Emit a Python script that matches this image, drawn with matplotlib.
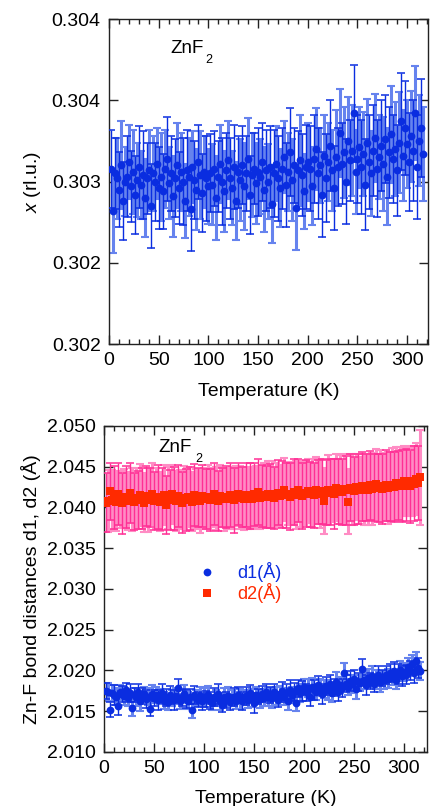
import matplotlib
matplotlib.use("Agg")
import matplotlib.pyplot as plt
import numpy as np
from matplotlib.lines import Line2D

plt.rcParams['font.family'] = ['Liberation Sans', 'DejaVu Sans']
plt.rcParams['mathtext.fontset'] = 'custom'
plt.rcParams['mathtext.rm'] = 'Liberation Sans'
plt.rcParams['mathtext.it'] = 'Liberation Sans:italic'

# ---------------- data ----------------
temperature = list(range(2, 318, 2))

x_rlu = [
    0.30308, 0.30282, 0.30305, 0.30302, 0.30295, 0.30310, 0.30288, 0.30300, 0.30303, 0.30312,
    0.30297, 0.30306, 0.30292, 0.30301, 0.30309, 0.30298, 0.30304, 0.30290, 0.30302, 0.30307,
    0.30285, 0.30305, 0.30300, 0.30311, 0.30296, 0.30303, 0.30294, 0.30308, 0.30314, 0.30299,
    0.30305, 0.30291, 0.30302, 0.30310, 0.30296, 0.30306, 0.30300, 0.30288, 0.30307, 0.30303,
    0.30283, 0.30309, 0.30301, 0.30295, 0.30312, 0.30304, 0.30293, 0.30306, 0.30302, 0.30297,
    0.30305, 0.30298, 0.30308, 0.30290, 0.30303, 0.30311, 0.30300, 0.30294, 0.30307, 0.30313,
    0.30302, 0.30296, 0.30309, 0.30288, 0.30306, 0.30301, 0.30310, 0.30297, 0.30305, 0.30314,
    0.30292, 0.30304, 0.30308, 0.30299, 0.30306, 0.30303, 0.30312, 0.30295, 0.30307, 0.30300,
    0.30309, 0.30286, 0.30305, 0.30311, 0.30302, 0.30296, 0.30308, 0.30315, 0.30298, 0.30306,
    0.30318, 0.30301, 0.30310, 0.30284, 0.30307, 0.30313, 0.30304, 0.30294, 0.30309, 0.30312,
    0.30308, 0.30297, 0.30314, 0.30320, 0.30305, 0.30310, 0.30292, 0.30316, 0.30302, 0.30312,
    0.30322, 0.30307, 0.30296, 0.30315, 0.30309, 0.30330, 0.30311, 0.30318, 0.30300, 0.30325,
    0.30313, 0.30319, 0.30342, 0.30306, 0.30314, 0.30321, 0.30309, 0.30317, 0.30298, 0.30324,
    0.30312, 0.30305, 0.30319, 0.30327, 0.30308, 0.30315, 0.30322, 0.30311, 0.30326, 0.30303,
    0.30318, 0.30329, 0.30314, 0.30320, 0.30307, 0.30324, 0.30337, 0.30316, 0.30333, 0.30323,
    0.30312, 0.30328, 0.30319, 0.30342, 0.30309, 0.30325, 0.30333, 0.30317,
]
x_err_1e5 = [
    24, 26, 22, 25, 23, 27, 24, 21, 25, 23,
    22, 26, 24, 23, 25, 21, 27, 24, 22, 25,
    26, 23, 24, 22, 25, 27, 23, 24, 26, 22,
    23, 25, 24, 26, 22, 24, 27, 23, 25, 24,
    26, 22, 24, 25, 23, 27, 24, 22, 26, 23,
    24, 25, 23, 26, 22, 24, 27, 25, 23, 24,
    25, 23, 26, 24, 22, 25, 24, 27, 23, 25,
    24, 26, 22, 25, 27, 23, 24, 26, 25, 23,
    25, 24, 27, 23, 26, 24, 25, 22, 26, 24,
    27, 25, 23, 26, 24, 28, 25, 23, 26, 24,
    26, 24, 27, 25, 28, 23, 26, 25, 27, 24,
    28, 25, 26, 29, 24, 27, 25, 28, 26, 27,
    25, 28, 30, 26, 27, 25, 29, 26, 28, 27,
    29, 26, 28, 27, 30, 26, 28, 29, 27, 30,
    28, 30, 27, 29, 28, 31, 30, 28, 29, 27,
    30, 28, 31, 29, 32, 28, 30, 29,
]

d2_A = [
    2.0406, 2.0408, 2.0420, 2.0409, 2.0412, 2.0407, 2.0416, 2.0410, 2.0405, 2.0411,
    2.0413, 2.0408, 2.0418, 2.0410, 2.0407, 2.0412, 2.0409, 2.0415, 2.0411, 2.0406,
    2.0414, 2.0409, 2.0412, 2.0417, 2.0408, 2.0411, 2.0413, 2.0407, 2.0410, 2.0415,
    2.0403, 2.0412, 2.0409, 2.0416, 2.0411, 2.0408, 2.0414, 2.0410, 2.0406, 2.0412,
    2.0409, 2.0413, 2.0411, 2.0407, 2.0415, 2.0410, 2.0412, 2.0408, 2.0414, 2.0411,
    2.0410, 2.0413, 2.0409, 2.0412, 2.0416, 2.0411, 2.0408, 2.0414, 2.0412, 2.0410,
    2.0413, 2.0411, 2.0415, 2.0412, 2.0409, 2.0414, 2.0417, 2.0412, 2.0413, 2.0410,
    2.0415, 2.0412, 2.0414, 2.0411, 2.0416, 2.0413, 2.0419, 2.0412, 2.0414, 2.0415,
    2.0413, 2.0417, 2.0414, 2.0416, 2.0412, 2.0415, 2.0418, 2.0414, 2.0416, 2.0422,
    2.0415, 2.0417, 2.0413, 2.0416, 2.0419, 2.0415, 2.0421, 2.0416, 2.0414, 2.0418,
    2.0417, 2.0420, 2.0416, 2.0418, 2.0415, 2.0421, 2.0419, 2.0417, 2.0420, 2.0408,
    2.0418, 2.0422, 2.0419, 2.0421, 2.0417, 2.0424, 2.0420, 2.0422, 2.0419, 2.0423,
    2.0421, 2.0407, 2.0424, 2.0422, 2.0420, 2.0425, 2.0423, 2.0421, 2.0426, 2.0422,
    2.0424, 2.0422, 2.0427, 2.0423, 2.0425, 2.0429, 2.0424, 2.0426, 2.0423, 2.0425,
    2.0427, 2.0424, 2.0426, 2.0428, 2.0425, 2.0430, 2.0427, 2.0429, 2.0426, 2.0433,
    2.0428, 2.0431, 2.0426, 2.0433, 2.0429, 2.0435, 2.0430, 2.0437,
]
d2_err_1e4 = [
    36, 38, 35, 37, 39, 36, 38, 35, 37, 36,
    38, 36, 37, 39, 35, 37, 36, 38, 37, 36,
    37, 39, 36, 38, 36, 37, 39, 36, 38, 37,
    36, 38, 37, 36, 39, 37, 38, 36, 37, 39,
    38, 37, 39, 36, 38, 37, 36, 39, 38, 37,
    37, 39, 38, 36, 38, 39, 37, 38, 36, 39,
    38, 37, 39, 38, 40, 37, 38, 39, 37, 38,
    39, 38, 40, 37, 39, 38, 40, 39, 38, 40,
    38, 40, 39, 41, 38, 39, 40, 38, 41, 39,
    40, 39, 41, 38, 40, 42, 39, 40, 41, 39,
    41, 39, 40, 42, 40, 41, 39, 42, 40, 41,
    40, 42, 41, 39, 43, 41, 40, 42, 41, 43,
    42, 40, 41, 43, 42, 40, 43, 41, 42, 44,
    41, 43, 42, 44, 41, 43, 42, 44, 43, 42,
    43, 44, 42, 45, 43, 44, 42, 45, 44, 43,
    44, 42, 45, 43, 46, 44, 45, 58,
]

d1_A = [
    2.0175, 2.0174, 2.0152, 2.0172, 2.0170, 2.0168, 2.0157, 2.0173, 2.0171, 2.0169,
    2.0176, 2.0166, 2.0172, 2.0154, 2.0170, 2.0167, 2.0174, 2.0162, 2.0169, 2.0171,
    2.0165, 2.0168, 2.0153, 2.0171, 2.0166, 2.0170, 2.0164, 2.0168, 2.0172, 2.0163,
    2.0167, 2.0161, 2.0170, 2.0166, 2.0164, 2.0169, 2.0178, 2.0162, 2.0167, 2.0171,
    2.0165, 2.0163, 2.0168, 2.0152, 2.0170, 2.0166, 2.0164, 2.0169, 2.0162, 2.0167,
    2.0165, 2.0170, 2.0163, 2.0160, 2.0168, 2.0166, 2.0171, 2.0162, 2.0158, 2.0167,
    2.0164, 2.0169, 2.0161, 2.0166, 2.0168, 2.0163, 2.0170, 2.0165, 2.0162, 2.0167,
    2.0169, 2.0164, 2.0172, 2.0166, 2.0160, 2.0170, 2.0168, 2.0165, 2.0171, 2.0167,
    2.0173, 2.0168, 2.0170, 2.0166, 2.0174, 2.0169, 2.0164, 2.0171, 2.0175, 2.0168,
    2.0172, 2.0162, 2.0176, 2.0170, 2.0174, 2.0160, 2.0178, 2.0172, 2.0175, 2.0180,
    2.0173, 2.0178, 2.0167, 2.0180, 2.0176, 2.0174, 2.0182, 2.0179, 2.0171, 2.0177,
    2.0181, 2.0176, 2.0184, 2.0172, 2.0179, 2.0186, 2.0174, 2.0182, 2.0178, 2.0197,
    2.0184, 2.0180, 2.0187, 2.0183, 2.0190, 2.0177, 2.0186, 2.0185, 2.0202, 2.0188,
    2.0182, 2.0191, 2.0187, 2.0193, 2.0184, 2.0189, 2.0195, 2.0186, 2.0191, 2.0188,
    2.0194, 2.0190, 2.0197, 2.0192, 2.0199, 2.0188, 2.0196, 2.0201, 2.0193, 2.0198,
    2.0195, 2.0204, 2.0200, 2.0208, 2.0197, 2.0212, 2.0203, 2.0199,
]
d1_err_1e4 = [
    10, 11, 9, 10, 12, 10, 11, 9, 10, 11,
    9, 10, 11, 10, 9, 11, 10, 12, 10, 9,
    11, 10, 9, 11, 10, 10, 12, 9, 11, 10,
    10, 9, 11, 10, 12, 10, 11, 9, 10, 11,
    11, 10, 9, 10, 11, 10, 9, 11, 10, 12,
    10, 11, 10, 9, 11, 10, 12, 10, 9, 11,
    10, 11, 9, 10, 11, 10, 10, 12, 11, 9,
    11, 10, 10, 11, 12, 10, 9, 11, 10, 10,
    10, 11, 10, 12, 10, 11, 9, 10, 11, 10,
    11, 10, 12, 10, 11, 10, 10, 11, 12, 10,
    10, 11, 10, 11, 12, 10, 11, 10, 12, 11,
    11, 12, 10, 11, 10, 12, 11, 10, 11, 12,
    11, 10, 12, 11, 10, 12, 11, 10, 12, 11,
    12, 11, 10, 12, 11, 12, 11, 12, 10, 11,
    11, 12, 11, 10, 12, 11, 12, 11, 12, 11,
    12, 11, 12, 11, 12, 11, 12, 11,
]

x_ticks = [0.3020, 0.3025, 0.3030, 0.3035, 0.3040]
x_tick_labels = ["0.302", "0.302", "0.303", "0.304", "0.304"]
d_ticks = [2.010, 2.015, 2.020, 2.025, 2.030, 2.035, 2.040, 2.045, 2.050]
t_ticks = [0, 50, 100, 150, 200, 250, 300]

# ---------------- style ----------------
BLUE = '#0a2de0'
BLUE_LIGHT = '#6683ee'
RED = '#ff2a00'
PINK = '#ff2f95'
PINK_LIGHT = '#ff8cc4'
FS = 14

T = np.array(temperature)


def draw_series(ax, y, err, dark, light, marker_color, marker):
    y = np.array(y)
    err = np.array(err)
    odd = slice(1, None, 2)
    even = slice(0, None, 2)
    ax.errorbar(T[odd], y[odd], yerr=err[odd], fmt='none', ecolor=light,
                elinewidth=2.2, capsize=3.2, capthick=1.5, zorder=2)
    ax.errorbar(T[even], y[even], yerr=err[even], fmt='none', ecolor=dark,
                elinewidth=1.0, capsize=3.2, capthick=1.1, zorder=3)
    ax.plot(T, y, linestyle='none', marker=marker, color=marker_color,
            markersize=5.6, markeredgewidth=0, zorder=4)


def style_axes(ax):
    ax.tick_params(which='both', direction='in', top=True, right=True,
                   labelsize=FS, color='#222222', width=1.0)
    ax.tick_params(which='major', length=6.5, pad=6)
    ax.tick_params(which='minor', length=3.5)
    ax.tick_params(axis='y', which='minor', left=False, right=False)
    ax.set_xticks(t_ticks)
    ax.set_xticks(np.arange(0, 330, 10), minor=True)
    for s in ax.spines.values():
        s.set_linewidth(1.0)
        s.set_color('#222222')


fig = plt.figure(figsize=(4.30, 8.06), dpi=100)

# ---- top panel ----
ax1 = fig.add_axes([0.2535, 0.5732, 0.742, 0.4032])
draw_series(ax1, x_rlu, np.array(x_err_1e5) * 1e-5, BLUE, BLUE_LIGHT, BLUE, 'o')
ax1.set_xlim(0, 321)
ax1.set_ylim(0.3020, 0.3040)
ax1.set_yticks(x_ticks)
ax1.set_yticklabels(x_tick_labels)
style_axes(ax1)
ax1.set_xlabel('Temperature (K)', fontsize=FS, labelpad=10)
ax1.set_ylabel(r'$\mathit{x}$ (rl.u.)', fontsize=FS, labelpad=6)
ax1.text(0.191, 0.895, 'ZnF', transform=ax1.transAxes, fontsize=FS - 0.5,
         ha='left', va='baseline')
ax1.text(0.301, 0.865, '2', transform=ax1.transAxes, fontsize=9,
         ha='left', va='baseline')

# ---- bottom panel ----
ax2 = fig.add_axes([0.2419, 0.0670, 0.751, 0.4045])
draw_series(ax2, d2_A, np.array(d2_err_1e4) * 1e-4, PINK, PINK_LIGHT, RED, 's')
draw_series(ax2, d1_A, np.array(d1_err_1e4) * 1e-4, BLUE, BLUE_LIGHT, BLUE, 'o')
ax2.set_xlim(0, 323)
ax2.set_ylim(2.010, 2.050)
ax2.set_yticks(d_ticks)
ax2.yaxis.set_major_formatter(matplotlib.ticker.FormatStrFormatter('%.3f'))
style_axes(ax2)
ax2.set_xlabel('Temperature (K)', fontsize=FS, labelpad=9)
ax2.set_ylabel('Zn-F bond distances d1, d2 (Å)', fontsize=FS, labelpad=4)
ax2.text(0.167, 0.920, 'ZnF', transform=ax2.transAxes, fontsize=FS - 0.5,
         ha='left', va='baseline')
ax2.text(0.282, 0.890, '2', transform=ax2.transAxes, fontsize=9,
         ha='left', va='baseline')

handles = [Line2D([], [], linestyle='none', marker='o', color=BLUE, markersize=5.6, markeredgewidth=0),
           Line2D([], [], linestyle='none', marker='s', color=RED, markersize=5.6, markeredgewidth=0)]
leg = ax2.legend(handles, ['d1(Å)', 'd2(Å)'], loc='center left',
                 bbox_to_anchor=(0.24, 0.52), frameon=False, fontsize=FS - 1,
                 handlelength=1.0, handletextpad=1.2, labelspacing=0.05,
                 labelcolor=[BLUE, RED])

fig.savefig('out.png', dpi=100)
